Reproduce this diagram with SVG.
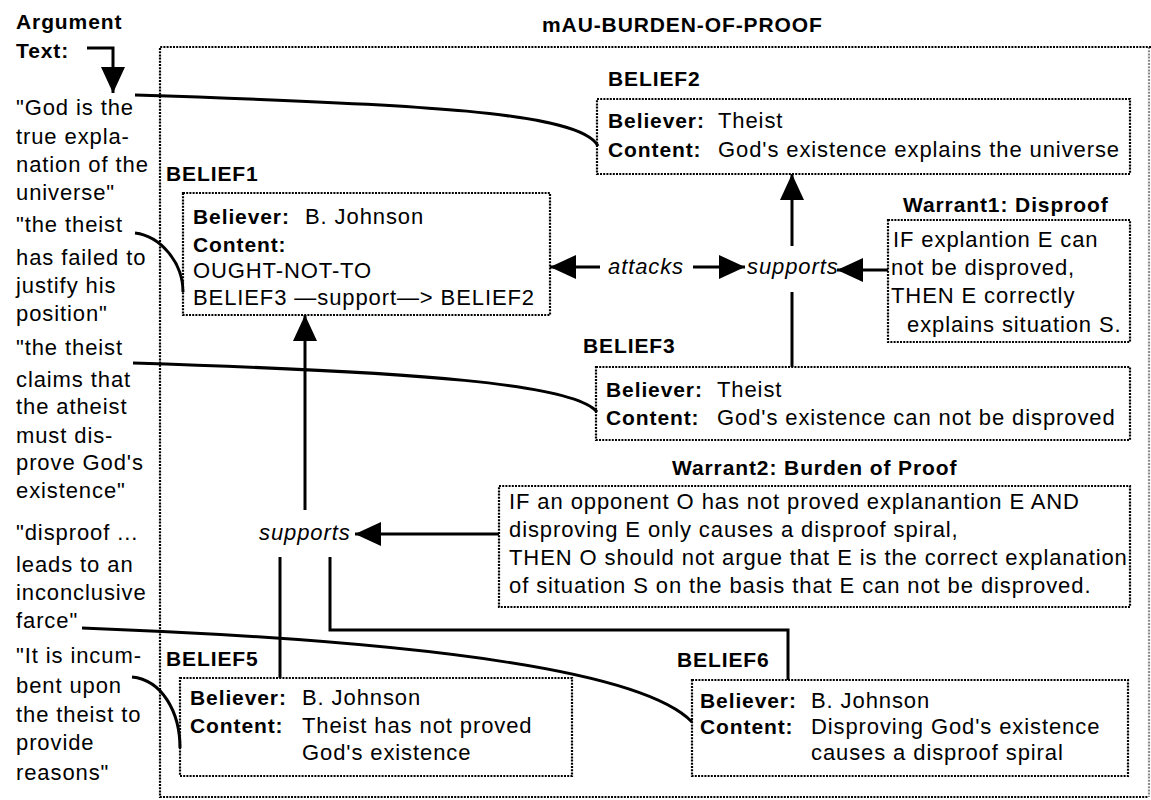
<svg xmlns="http://www.w3.org/2000/svg" width="1151" height="800" viewBox="0 0 1151 800">
  <style>
    .t { font-family: "Liberation Sans", Arial, Helvetica, sans-serif; font-size: 22px; letter-spacing: 0.9px; fill: #000; }
    .b { font-weight: bold; font-size: 21px; }
    .i { font-style: italic; }
    .box { fill: none; stroke: #000; stroke-width: 2.2; stroke-dasharray: 2 1.2; }
    .ln { fill: none; stroke: #000; stroke-width: 3; }
    .arr { marker-end: url(#ah); }
  </style>
  <defs>
    <marker id="ah" markerUnits="userSpaceOnUse" markerWidth="28" markerHeight="26" refX="26" refY="12" orient="auto">
      <path d="M0,0 L26,12 L0,24 Z" fill="#000"/>
    </marker>
  </defs>
  <rect width="1151" height="800" fill="#fff"/>

  <!-- argument text column -->
  <g id="argument-text" class="t">
    <text class="t b" x="16" y="29">Argument</text>
    <text class="t b" x="16" y="58">Text:</text>
    <text x="16" y="115">"God is the</text>
    <text x="16" y="144">true expla-</text>
    <text x="16" y="172">nation of the</text>
    <text x="16" y="200">universe"</text>
    <text x="16" y="232">"the theist</text>
    <text x="16" y="265">has failed to</text>
    <text x="16" y="293">justify his</text>
    <text x="16" y="321">position"</text>
    <text x="16" y="355">"the theist</text>
    <text x="16" y="387">claims that</text>
    <text x="16" y="414">the atheist</text>
    <text x="16" y="443">must dis-</text>
    <text x="16" y="470">prove God's</text>
    <text x="16" y="498">existence"</text>
    <text x="16" y="540">"disproof ...</text>
    <text x="16" y="572">leads to an</text>
    <text x="16" y="600">inconclusive</text>
    <text x="16" y="628">farce"</text>
    <text x="16" y="663">"It is incum-</text>
    <text x="16" y="693">bent upon</text>
    <text x="16" y="722">the theist to</text>
    <text x="16" y="750">provide</text>
    <text x="16" y="780">reasons"</text>
  </g>

  <!-- enclosing mAU frame -->
  <g id="mau-frame">
    <text class="t b" x="542" y="32">mAU-BURDEN-OF-PROOF</text>
    <path class="box" d="M1151,47 H160 V797 H1148"/>
    <path class="box" d="M1149,47 V797" stroke="#999" opacity="0.45"/>
  </g>

  <!-- connectors -->
  <g id="connectors">
    <path class="ln arr" d="M87,48 H113 V93"/>
    <path class="ln" d="M135,95 C420,104 580,112 598,146"/>
    <path class="ln" d="M135,233 C160,236 183,262 183,292"/>
    <path class="ln" d="M133,363 C420,372 575,384 597,412"/>
    <path class="ln" d="M82,628 C400,640 640,668 692,722"/>
    <path class="ln" d="M132,677 C162,680 180,712 180,748"/>
    <path class="ln arr" d="M600,267 H550"/>
    <path class="ln arr" d="M693,267 H745"/>
    <path class="ln arr" d="M888,270 H837"/>
    <path class="ln arr" d="M792,246 V174"/>
    <path class="ln" d="M792,292 V367"/>
    <path class="ln arr" d="M305,510 V315"/>
    <path class="ln arr" d="M499,534 H355"/>
    <path class="ln" d="M280,557 V678"/>
    <path class="ln" d="M330,557 V630 H788 V680"/>
    <text class="t i" x="608" y="274">attacks</text>
    <text class="t i" x="747" y="274">supports</text>
    <text class="t i" x="259" y="540">supports</text>
  </g>

  <g id="belief1">
    <text class="t b" x="166" y="181">BELIEF1</text>
    <rect class="box" x="183" y="193" width="367" height="122"/>
    <text class="t b" x="193" y="224">Believer:</text>
    <text class="t" x="305" y="224">B. Johnson</text>
    <text class="t b" x="193" y="252">Content:</text>
    <text class="t" x="193" y="278">OUGHT-NOT-TO</text>
    <text class="t" x="193" y="305">BELIEF3 —support—&gt; BELIEF2</text>
  </g>

  <g id="belief2">
    <text class="t b" x="608" y="86">BELIEF2</text>
    <rect class="box" x="597" y="99" width="533" height="75"/>
    <text class="t b" x="608" y="128">Believer:</text>
    <text class="t" x="718" y="128">Theist</text>
    <text class="t b" x="608" y="157">Content:</text>
    <text class="t" x="718" y="157">God's existence explains the universe</text>
  </g>

  <g id="warrant1">
    <text class="t b" x="903" y="212">Warrant1: Disproof</text>
    <rect class="box" x="888" y="220" width="242" height="122"/>
    <text class="t" x="893" y="247">IF explantion E can</text>
    <text class="t" x="891" y="275">not be disproved,</text>
    <text class="t" x="891" y="303">THEN E correctly</text>
    <text class="t" x="907" y="332">explains situation S.</text>
  </g>

  <g id="belief3">
    <text class="t b" x="583" y="353">BELIEF3</text>
    <rect class="box" x="596" y="367" width="534" height="73"/>
    <text class="t b" x="606" y="397">Believer:</text>
    <text class="t" x="717" y="397">Theist</text>
    <text class="t b" x="606" y="425">Content:</text>
    <text class="t" x="717" y="425">God's existence can not be disproved</text>
  </g>

  <g id="warrant2">
    <text class="t b" x="672" y="475">Warrant2: Burden of Proof</text>
    <rect class="box" x="499" y="486" width="631" height="121"/>
    <text class="t" x="509" y="509">IF an opponent O has not proved explanantion E AND</text>
    <text class="t" x="509" y="537">disproving E only causes a disproof spiral,</text>
    <text class="t" x="509" y="565">THEN O should not argue that E is the correct explanation</text>
    <text class="t" x="509" y="593">of situation S on the basis that E can not be disproved.</text>
  </g>

  <g id="belief5">
    <text class="t b" x="166" y="666">BELIEF5</text>
    <rect class="box" x="180" y="678" width="392" height="98"/>
    <text class="t b" x="190" y="705">Believer:</text>
    <text class="t" x="302" y="705">B. Johnson</text>
    <text class="t b" x="190" y="733">Content:</text>
    <text class="t" x="302" y="733">Theist has not proved</text>
    <text class="t" x="302" y="760">God's existence</text>
  </g>

  <g id="belief6">
    <text class="t b" x="677" y="667">BELIEF6</text>
    <rect class="box" x="692" y="680" width="436" height="96"/>
    <text class="t b" x="700" y="708">Believer:</text>
    <text class="t" x="811" y="708">B. Johnson</text>
    <text class="t b" x="700" y="734">Content:</text>
    <text class="t" x="811" y="734">Disproving God's existence</text>
    <text class="t" x="811" y="760">causes a disproof spiral</text>
  </g>
</svg>
